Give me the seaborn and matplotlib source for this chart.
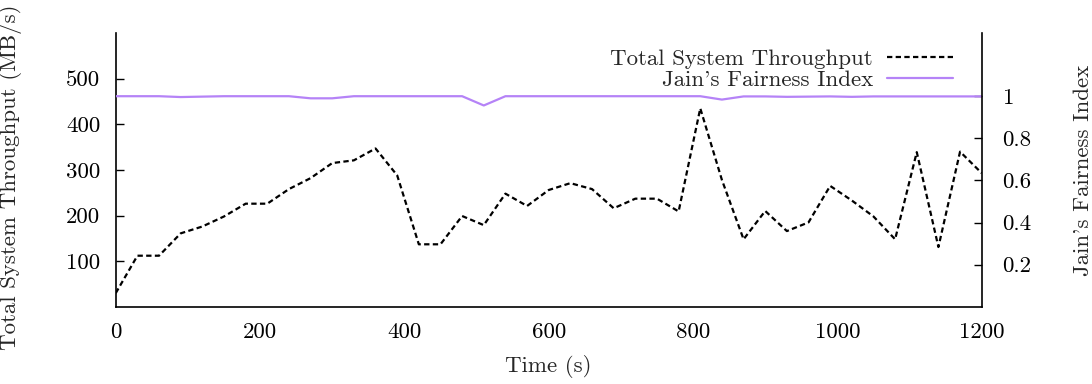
import numpy as np
import pandas as pd
import matplotlib
matplotlib.use("Agg")
import matplotlib.pyplot as plt
import seaborn as sns

# ---- data ----
time_s = list(range(0, 1201, 30))
throughput = [30, 112, 112, 161, 176, 198, 226, 226, 258, 282,
              315, 321, 347, 288, 137, 137, 199, 179, 248, 221,
              256, 271, 258, 216, 237, 237, 209, 435, 278, 148,
              210, 166, 185, 265, 233, 198, 148, 339, 131, 340,
              293]
fairness = [1.0, 1.0, 1.0, 0.996, 0.998, 1.0, 1.0, 1.0, 1.0, 0.990,
            0.990, 1.0, 1.0, 1.0, 1.0, 1.0, 1.0, 0.956, 1.0, 1.0,
            1.0, 1.0, 1.0, 1.0, 1.0, 1.0, 1.0, 1.0, 0.984, 0.999,
            0.999, 0.997, 0.998, 0.999, 0.997, 0.999, 0.999, 0.999, 0.999, 0.999,
            0.999]
left_ticks = [100, 200, 300, 400, 500]
right_ticks = [0.2, 0.4, 0.6, 0.8, 1.0]
right_ticklabels = ["0.2", "0.4", "0.6", "0.8", "1"]
x_ticks = [0, 200, 400, 600, 800, 1000, 1200]

df = pd.DataFrame({"t": time_s, "thr": throughput, "fair": fairness})

sns.set_style("white")
plt.rcParams["font.family"] = ["cmr10", "DejaVu Serif"]
plt.rcParams["axes.formatter.use_mathtext"] = True
plt.rcParams["mathtext.fontset"] = "cm"

FS = 16.5
PURPLE = "#b583f7"

fig = plt.figure(figsize=(10.92, 3.84), dpi=100)
ax = fig.add_axes([0.106, 0.201, 0.793, 0.713])
ax2 = ax.twinx()

sns.lineplot(data=df, x="t", y="thr", ax=ax, color="black", linewidth=1.6,
             label="Total System Throughput", legend=False)
ax.lines[0].set_dashes((2.4, 1.5))
sns.lineplot(data=df, x="t", y="fair", ax=ax2, color=PURPLE, linewidth=1.6,
             label="Jain's Fairness Index", legend=False)

ax.set_xlim(0, 1200)
ax.set_ylim(0, 600)
ax2.set_ylim(0, 1.3)
ax.set_xticks(x_ticks)
ax.set_xticklabels([str(v) for v in x_ticks])
ax.set_yticks(left_ticks)
ax.set_yticklabels([str(v) for v in left_ticks])
ax2.set_yticks(right_ticks)
ax2.set_yticklabels(right_ticklabels)

ax.tick_params(axis="both", direction="in", length=6, width=1.0,
               labelsize=FS, colors="black")
ax.tick_params(axis="y", pad=11)
ax.tick_params(axis="x", pad=11)
ax2.tick_params(axis="y", direction="in", length=6, width=1.0,
                labelsize=FS, pad=15, colors="black")

for a in (ax, ax2):
    a.spines["top"].set_visible(False)
    for s in a.spines.values():
        s.set_linewidth(1.2)
        s.set_color("black")
ax.spines["right"].set_visible(False)
ax2.spines["left"].set_visible(False)
ax2.spines["bottom"].set_visible(False)

ax.set_xlabel("Time (s)", fontsize=FS, labelpad=10)
ax.set_ylabel("Total System Throughput (MB/s)", fontsize=FS)
ax.yaxis.set_label_coords(-0.108, 0.475)
ax2.set_ylabel("Jain's Fairness Index", fontsize=FS, labelpad=30)

h1, l1 = ax.get_legend_handles_labels()
h2, l2 = ax2.get_legend_handles_labels()
leg = ax2.legend(h1 + h2, l1 + l2, loc="upper right",
                 bbox_to_anchor=(0.967, 0.94), frameon=False,
                 markerfirst=False, fontsize=FS, handlelength=2.9,
                 handletextpad=0.6, labelspacing=0.0, borderpad=0,
                 borderaxespad=0)
for t in leg.get_texts():
    t.set_ha("right")
leg._legend_box.align = "right"

fig.savefig("out.png", dpi=100)
